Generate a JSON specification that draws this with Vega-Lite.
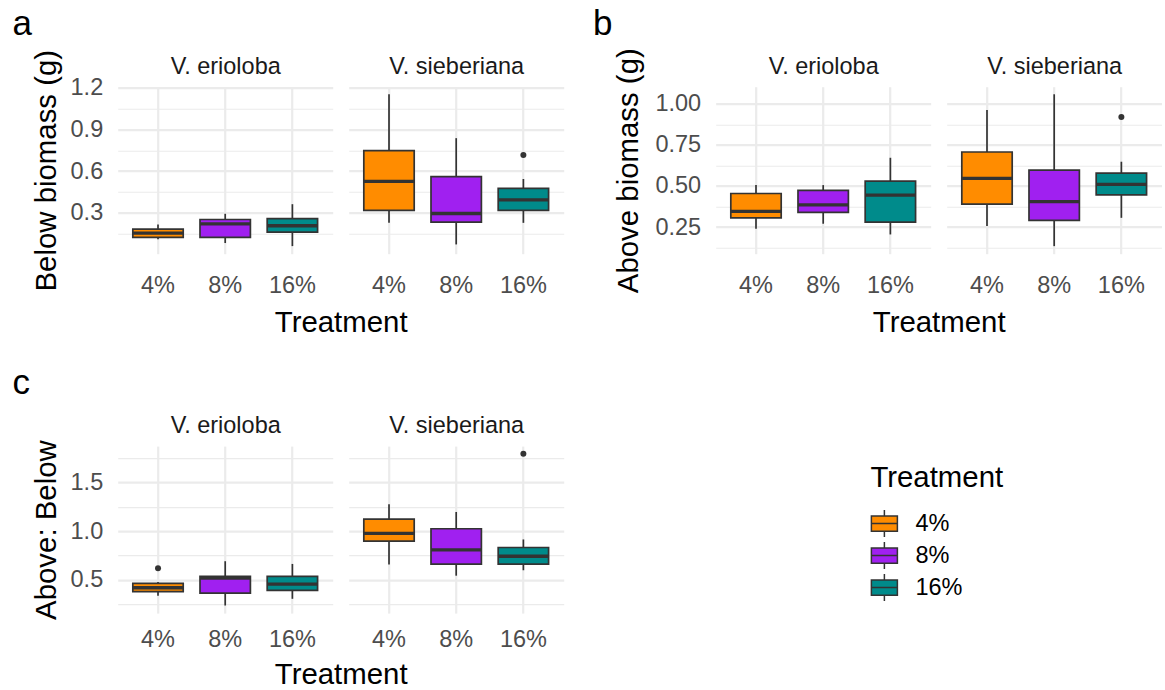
{
"$schema":"https://vega.github.io/schema/vega-lite/v6.json",
"background":"white",
"padding":{"left":11.7,"top":5.7,"right":0,"bottom":0},
"config":{"view":{"stroke":null},"font":"Liberation Sans"},
"datasets":{
"boxes":[
{"panel":"a","species":"V. erioloba","treatment":"4%","lower":0.112,"q1":0.124,"median":0.155,"q3":0.184,"upper":0.217},
{"panel":"a","species":"V. erioloba","treatment":"8%","lower":0.084,"q1":0.124,"median":0.222,"q3":0.253,"upper":0.294},
{"panel":"a","species":"V. erioloba","treatment":"16%","lower":0.062,"q1":0.163,"median":0.208,"q3":0.260,"upper":0.363},
{"panel":"a","species":"V. sieberiana","treatment":"4%","lower":0.229,"q1":0.318,"median":0.527,"q3":0.747,"upper":1.152},
{"panel":"a","species":"V. sieberiana","treatment":"8%","lower":0.074,"q1":0.234,"median":0.296,"q3":0.561,"upper":0.837},
{"panel":"a","species":"V. sieberiana","treatment":"16%","lower":0.229,"q1":0.318,"median":0.394,"q3":0.477,"upper":0.544},
{"panel":"b","species":"V. erioloba","treatment":"4%","lower":0.239,"q1":0.306,"median":0.345,"q3":0.454,"upper":0.505},
{"panel":"b","species":"V. erioloba","treatment":"8%","lower":0.270,"q1":0.339,"median":0.385,"q3":0.473,"upper":0.505},
{"panel":"b","species":"V. erioloba","treatment":"16%","lower":0.205,"q1":0.280,"median":0.444,"q3":0.529,"upper":0.671},
{"panel":"b","species":"V. sieberiana","treatment":"4%","lower":0.256,"q1":0.389,"median":0.546,"q3":0.706,"upper":0.961},
{"panel":"b","species":"V. sieberiana","treatment":"8%","lower":0.134,"q1":0.290,"median":0.404,"q3":0.596,"upper":1.057},
{"panel":"b","species":"V. sieberiana","treatment":"16%","lower":0.306,"q1":0.446,"median":0.509,"q3":0.578,"upper":0.647},
{"panel":"c","species":"V. erioloba","treatment":"4%","lower":0.334,"q1":0.376,"median":0.417,"q3":0.462,"upper":0.476},
{"panel":"c","species":"V. erioloba","treatment":"8%","lower":0.234,"q1":0.362,"median":0.517,"q3":0.534,"upper":0.690},
{"panel":"c","species":"V. erioloba","treatment":"16%","lower":0.303,"q1":0.390,"median":0.455,"q3":0.534,"upper":0.662},
{"panel":"c","species":"V. sieberiana","treatment":"4%","lower":0.655,"q1":0.897,"median":0.976,"q3":1.124,"upper":1.276},
{"panel":"c","species":"V. sieberiana","treatment":"8%","lower":0.541,"q1":0.659,"median":0.807,"q3":1.024,"upper":1.197},
{"panel":"c","species":"V. sieberiana","treatment":"16%","lower":0.597,"q1":0.659,"median":0.741,"q3":0.831,"upper":0.914}
],
"outliers":[
{"panel":"a","species":"V. sieberiana","treatment":"16%","value":0.716},
{"panel":"b","species":"V. sieberiana","treatment":"16%","value":0.919},
{"panel":"c","species":"V. erioloba","treatment":"4%","value":0.617},
{"panel":"c","species":"V. sieberiana","treatment":"16%","value":1.797}
]
},
"columns":5,
"spacing":{"row":192.4,"column":16},
"bounds":"flush",
"concat":[
{
"width":215,"height":167,
"resolve":{"axis":{"y":"independent"}},
"encoding":{"x":{"field":"treatment","type":"nominal","sort":["4%","8%","16%"],"scale":{"type":"band","domain":["4%","8%","16%"],"paddingInner":0.25,"paddingOuter":0.225},"axis":{"title":"Treatment","titleX":223,"titleY":77.6,"titleAlign":"center","titleBaseline":"alphabetic","titleFontSize":29.4,"titleFont":"Liberation Sans","titleFontWeight":"normal","titleColor":"#000000","labelFontSize":23.5,"labelFont":"Liberation Sans","labelColor":"#4D4D4D","labelBaseline":"alphabetic","labelPadding":39,"labelAngle":0,"ticks":false,"domain":false,"grid":true,"gridColor":"#EBEBEB","gridWidth":2.2,"bandPosition":0.5}}},
"layer":[
{"data":{"name":"boxes"},"transform":[{"filter":"datum.panel=='a' && datum.species=='V. erioloba'"}],"mark":{"type":"rule","color":"#333333","strokeWidth":1.7},
"encoding":{"y":{"field":"lower","type":"quantitative","scale":{"domain":[0.0075,1.2065],"nice":false,"zero":false},"axis":{"orient":"left","values":[0.3,0.6,0.9,1.2],"format":".1f","labelOverlap":false,"labelFlush":false,"labelFontSize":23.5,"labelFont":"Liberation Sans","labelColor":"#4D4D4D","labelPadding":15,"ticks":false,"domain":false,"grid":true,"gridColor":"#EBEBEB","gridWidth":2.2,"title":"Below biomass (g)","titleX":-62,"titleY":83.5,"titleAngle":270,"titleAlign":"center","titleBaseline":"alphabetic","titleFontSize":29.4,"titleFont":"Liberation Sans","titleFontWeight":"normal","titleColor":"#000000"}},"y2":{"field":"upper"}}},
{"data":{"name":"boxes"},"transform":[{"filter":"datum.panel=='a' && datum.species=='V. erioloba'"}],"mark":{"type":"bar","stroke":"#333333","strokeWidth":1.7},
"encoding":{"y":{"field":"q1","type":"quantitative","scale":{"domain":[0.0075,1.2065],"nice":false,"zero":false},"axis":{"orient":"left","values":[0.15,0.45,0.75,1.05],"labels":false,"ticks":false,"domain":false,"grid":true,"gridColor":"#EBEBEB","gridWidth":1.1,"title":"V. erioloba","titleX":107.5,"titleY":-13.5,"titleAngle":0,"titleAlign":"center","titleBaseline":"alphabetic","titleFontSize":23.5,"titleFont":"Liberation Sans","titleFontWeight":"normal","titleColor":"#1A1A1A"}},"y2":{"field":"q3"},
"fill":{"field":"treatment","type":"nominal","sort":["4%","8%","16%"],"scale":{"domain":["4%","8%","16%"],"range":["#FF8C00","#A020F0","#008B8B"]},"legend":{"title":"Treatment","orient":"none","legendX":752.7,"legendY":377,"padding":0,"titleFontSize":29.4,"titleFont":"Liberation Sans","titleFontWeight":"normal","titleColor":"#000000","titlePadding":16.5,"labelFontSize":23.5,"labelFont":"Liberation Sans","labelColor":"#000000","labelOffset":17,"symbolType":"M-1,-0.58H1V0.58H-1Z M-1,0H1 M0,-0.58V-1.04 M0,0.58V1.04","symbolSize":676,"symbolStrokeColor":"#333333","symbolStrokeWidth":1.5,"symbolOpacity":1,"rowPadding":-2}}}},
{"data":{"name":"boxes"},"transform":[{"filter":"datum.panel=='a' && datum.species=='V. erioloba'"}],"mark":{"type":"bar","stroke":"#333333","strokeWidth":3.3,"fillOpacity":0},
"encoding":{"y":{"field":"median","type":"quantitative","scale":{"domain":[0.0075,1.2065],"nice":false,"zero":false},"axis":null},"y2":{"field":"median"}}},
{"data":{"name":"outliers"},"transform":[{"filter":"datum.panel=='a' && datum.species=='V. erioloba'"}],"mark":{"type":"circle","size":36,"color":"#333333","opacity":1},
"encoding":{"y":{"field":"value","type":"quantitative","scale":{"domain":[0.0075,1.2065],"nice":false,"zero":false},"axis":null}}}
]
},
{
"width":215,"height":167,
"resolve":{"axis":{"y":"independent"}},
"encoding":{"x":{"field":"treatment","type":"nominal","sort":["4%","8%","16%"],"scale":{"type":"band","domain":["4%","8%","16%"],"paddingInner":0.25,"paddingOuter":0.225},"axis":{"title":null,"labelFontSize":23.5,"labelFont":"Liberation Sans","labelColor":"#4D4D4D","labelBaseline":"alphabetic","labelPadding":39,"labelAngle":0,"ticks":false,"domain":false,"grid":true,"gridColor":"#EBEBEB","gridWidth":2.2,"bandPosition":0.5}}},
"layer":[
{"data":{"name":"boxes"},"transform":[{"filter":"datum.panel=='a' && datum.species=='V. sieberiana'"}],"mark":{"type":"rule","color":"#333333","strokeWidth":1.7},
"encoding":{"y":{"field":"lower","type":"quantitative","scale":{"domain":[0.0075,1.2065],"nice":false,"zero":false},"axis":{"orient":"left","values":[0.3,0.6,0.9,1.2],"labels":false,"ticks":false,"domain":false,"grid":true,"gridColor":"#EBEBEB","gridWidth":2.2,"title":"a","titleX":-336.6,"titleY":-52.4,"titleAngle":0,"titleAlign":"left","titleBaseline":"alphabetic","titleFontSize":35,"titleFont":"Liberation Sans","titleFontWeight":"normal","titleColor":"#000000"}},"y2":{"field":"upper"}}},
{"data":{"name":"boxes"},"transform":[{"filter":"datum.panel=='a' && datum.species=='V. sieberiana'"}],"mark":{"type":"bar","stroke":"#333333","strokeWidth":1.7},
"encoding":{"y":{"field":"q1","type":"quantitative","scale":{"domain":[0.0075,1.2065],"nice":false,"zero":false},"axis":{"orient":"left","values":[0.15,0.45,0.75,1.05],"labels":false,"ticks":false,"domain":false,"grid":true,"gridColor":"#EBEBEB","gridWidth":1.1,"title":"V. sieberiana","titleX":107.5,"titleY":-13.5,"titleAngle":0,"titleAlign":"center","titleBaseline":"alphabetic","titleFontSize":23.5,"titleFont":"Liberation Sans","titleFontWeight":"normal","titleColor":"#1A1A1A"}},"y2":{"field":"q3"},
"fill":{"field":"treatment","type":"nominal","sort":["4%","8%","16%"],"scale":{"domain":["4%","8%","16%"],"range":["#FF8C00","#A020F0","#008B8B"]},"legend":{"title":"Treatment","orient":"none","legendX":752.7,"legendY":377,"padding":0,"titleFontSize":29.4,"titleFont":"Liberation Sans","titleFontWeight":"normal","titleColor":"#000000","titlePadding":16.5,"labelFontSize":23.5,"labelFont":"Liberation Sans","labelColor":"#000000","labelOffset":17,"symbolType":"M-1,-0.58H1V0.58H-1Z M-1,0H1 M0,-0.58V-1.04 M0,0.58V1.04","symbolSize":676,"symbolStrokeColor":"#333333","symbolStrokeWidth":1.5,"symbolOpacity":1,"rowPadding":-2}}}},
{"data":{"name":"boxes"},"transform":[{"filter":"datum.panel=='a' && datum.species=='V. sieberiana'"}],"mark":{"type":"bar","stroke":"#333333","strokeWidth":3.3,"fillOpacity":0},
"encoding":{"y":{"field":"median","type":"quantitative","scale":{"domain":[0.0075,1.2065],"nice":false,"zero":false},"axis":null},"y2":{"field":"median"}}},
{"data":{"name":"outliers"},"transform":[{"filter":"datum.panel=='a' && datum.species=='V. sieberiana'"}],"mark":{"type":"circle","size":36,"color":"#333333","opacity":1},
"encoding":{"y":{"field":"value","type":"quantitative","scale":{"domain":[0.0075,1.2065],"nice":false,"zero":false},"axis":null}}}
]
},
{"width":120,"height":167,"data":{"values":[{}]},"mark":{"type":"point","opacity":0},"encoding":{}},
{
"width":215,"height":167,
"resolve":{"axis":{"y":"independent"}},
"encoding":{"x":{"field":"treatment","type":"nominal","sort":["4%","8%","16%"],"scale":{"type":"band","domain":["4%","8%","16%"],"paddingInner":0.25,"paddingOuter":0.225},"axis":{"title":"Treatment","titleX":223,"titleY":77.6,"titleAlign":"center","titleBaseline":"alphabetic","titleFontSize":29.4,"titleFont":"Liberation Sans","titleFontWeight":"normal","titleColor":"#000000","labelFontSize":23.5,"labelFont":"Liberation Sans","labelColor":"#4D4D4D","labelBaseline":"alphabetic","labelPadding":39,"labelAngle":0,"ticks":false,"domain":false,"grid":true,"gridColor":"#EBEBEB","gridWidth":2.2,"bandPosition":0.5}}},
"layer":[
{"data":{"name":"boxes"},"transform":[{"filter":"datum.panel=='b' && datum.species=='V. erioloba'"}],"mark":{"type":"rule","color":"#333333","strokeWidth":1.7},
"encoding":{"y":{"field":"lower","type":"quantitative","scale":{"domain":[0.088,1.103],"nice":false,"zero":false},"axis":{"orient":"left","values":[0.25,0.5,0.75,1.0],"format":".2f","labelOverlap":false,"labelFlush":false,"labelFontSize":23.5,"labelFont":"Liberation Sans","labelColor":"#4D4D4D","labelPadding":15,"ticks":false,"domain":false,"grid":true,"gridColor":"#EBEBEB","gridWidth":2.2,"title":"Above biomass (g)","titleX":-77.7,"titleY":83.5,"titleAngle":270,"titleAlign":"center","titleBaseline":"alphabetic","titleFontSize":29.4,"titleFont":"Liberation Sans","titleFontWeight":"normal","titleColor":"#000000"}},"y2":{"field":"upper"}}},
{"data":{"name":"boxes"},"transform":[{"filter":"datum.panel=='b' && datum.species=='V. erioloba'"}],"mark":{"type":"bar","stroke":"#333333","strokeWidth":1.7},
"encoding":{"y":{"field":"q1","type":"quantitative","scale":{"domain":[0.088,1.103],"nice":false,"zero":false},"axis":{"orient":"left","values":[0.125,0.375,0.625,0.875],"labels":false,"ticks":false,"domain":false,"grid":true,"gridColor":"#EBEBEB","gridWidth":1.1,"title":"V. erioloba","titleX":107.5,"titleY":-13.5,"titleAngle":0,"titleAlign":"center","titleBaseline":"alphabetic","titleFontSize":23.5,"titleFont":"Liberation Sans","titleFontWeight":"normal","titleColor":"#1A1A1A"}},"y2":{"field":"q3"},
"fill":{"field":"treatment","type":"nominal","sort":["4%","8%","16%"],"scale":{"domain":["4%","8%","16%"],"range":["#FF8C00","#A020F0","#008B8B"]},"legend":{"title":"Treatment","orient":"none","legendX":752.7,"legendY":377,"padding":0,"titleFontSize":29.4,"titleFont":"Liberation Sans","titleFontWeight":"normal","titleColor":"#000000","titlePadding":16.5,"labelFontSize":23.5,"labelFont":"Liberation Sans","labelColor":"#000000","labelOffset":17,"symbolType":"M-1,-0.58H1V0.58H-1Z M-1,0H1 M0,-0.58V-1.04 M0,0.58V1.04","symbolSize":676,"symbolStrokeColor":"#333333","symbolStrokeWidth":1.5,"symbolOpacity":1,"rowPadding":-2}}}},
{"data":{"name":"boxes"},"transform":[{"filter":"datum.panel=='b' && datum.species=='V. erioloba'"}],"mark":{"type":"bar","stroke":"#333333","strokeWidth":3.3,"fillOpacity":0},
"encoding":{"y":{"field":"median","type":"quantitative","scale":{"domain":[0.088,1.103],"nice":false,"zero":false},"axis":null},"y2":{"field":"median"}}},
{"data":{"name":"outliers"},"transform":[{"filter":"datum.panel=='b' && datum.species=='V. erioloba'"}],"mark":{"type":"circle","size":36,"color":"#333333","opacity":1},
"encoding":{"y":{"field":"value","type":"quantitative","scale":{"domain":[0.088,1.103],"nice":false,"zero":false},"axis":null}}}
]
},
{
"width":215,"height":167,
"resolve":{"axis":{"y":"independent"}},
"encoding":{"x":{"field":"treatment","type":"nominal","sort":["4%","8%","16%"],"scale":{"type":"band","domain":["4%","8%","16%"],"paddingInner":0.25,"paddingOuter":0.225},"axis":{"title":null,"labelFontSize":23.5,"labelFont":"Liberation Sans","labelColor":"#4D4D4D","labelBaseline":"alphabetic","labelPadding":39,"labelAngle":0,"ticks":false,"domain":false,"grid":true,"gridColor":"#EBEBEB","gridWidth":2.2,"bandPosition":0.5}}},
"layer":[
{"data":{"name":"boxes"},"transform":[{"filter":"datum.panel=='b' && datum.species=='V. sieberiana'"}],"mark":{"type":"rule","color":"#333333","strokeWidth":1.7},
"encoding":{"y":{"field":"lower","type":"quantitative","scale":{"domain":[0.088,1.103],"nice":false,"zero":false},"axis":{"orient":"left","values":[0.25,0.5,0.75,1.0],"labels":false,"ticks":false,"domain":false,"grid":true,"gridColor":"#EBEBEB","gridWidth":2.2,"title":"b","titleX":-354.1,"titleY":-52.4,"titleAngle":0,"titleAlign":"left","titleBaseline":"alphabetic","titleFontSize":35,"titleFont":"Liberation Sans","titleFontWeight":"normal","titleColor":"#000000"}},"y2":{"field":"upper"}}},
{"data":{"name":"boxes"},"transform":[{"filter":"datum.panel=='b' && datum.species=='V. sieberiana'"}],"mark":{"type":"bar","stroke":"#333333","strokeWidth":1.7},
"encoding":{"y":{"field":"q1","type":"quantitative","scale":{"domain":[0.088,1.103],"nice":false,"zero":false},"axis":{"orient":"left","values":[0.125,0.375,0.625,0.875],"labels":false,"ticks":false,"domain":false,"grid":true,"gridColor":"#EBEBEB","gridWidth":1.1,"title":"V. sieberiana","titleX":107.5,"titleY":-13.5,"titleAngle":0,"titleAlign":"center","titleBaseline":"alphabetic","titleFontSize":23.5,"titleFont":"Liberation Sans","titleFontWeight":"normal","titleColor":"#1A1A1A"}},"y2":{"field":"q3"},
"fill":{"field":"treatment","type":"nominal","sort":["4%","8%","16%"],"scale":{"domain":["4%","8%","16%"],"range":["#FF8C00","#A020F0","#008B8B"]},"legend":{"title":"Treatment","orient":"none","legendX":752.7,"legendY":377,"padding":0,"titleFontSize":29.4,"titleFont":"Liberation Sans","titleFontWeight":"normal","titleColor":"#000000","titlePadding":16.5,"labelFontSize":23.5,"labelFont":"Liberation Sans","labelColor":"#000000","labelOffset":17,"symbolType":"M-1,-0.58H1V0.58H-1Z M-1,0H1 M0,-0.58V-1.04 M0,0.58V1.04","symbolSize":676,"symbolStrokeColor":"#333333","symbolStrokeWidth":1.5,"symbolOpacity":1,"rowPadding":-2}}}},
{"data":{"name":"boxes"},"transform":[{"filter":"datum.panel=='b' && datum.species=='V. sieberiana'"}],"mark":{"type":"bar","stroke":"#333333","strokeWidth":3.3,"fillOpacity":0},
"encoding":{"y":{"field":"median","type":"quantitative","scale":{"domain":[0.088,1.103],"nice":false,"zero":false},"axis":null},"y2":{"field":"median"}}},
{"data":{"name":"outliers"},"transform":[{"filter":"datum.panel=='b' && datum.species=='V. sieberiana'"}],"mark":{"type":"circle","size":36,"color":"#333333","opacity":1},
"encoding":{"y":{"field":"value","type":"quantitative","scale":{"domain":[0.088,1.103],"nice":false,"zero":false},"axis":null}}}
]
},
{
"width":215,"height":167,
"resolve":{"axis":{"y":"independent"}},
"encoding":{"x":{"field":"treatment","type":"nominal","sort":["4%","8%","16%"],"scale":{"type":"band","domain":["4%","8%","16%"],"paddingInner":0.25,"paddingOuter":0.225},"axis":{"title":"Treatment","titleX":223,"titleY":70.4,"titleAlign":"center","titleBaseline":"alphabetic","titleFontSize":29.4,"titleFont":"Liberation Sans","titleFontWeight":"normal","titleColor":"#000000","labelFontSize":23.5,"labelFont":"Liberation Sans","labelColor":"#4D4D4D","labelBaseline":"alphabetic","labelPadding":33.4,"labelAngle":0,"ticks":false,"domain":false,"grid":true,"gridColor":"#EBEBEB","gridWidth":2.2,"bandPosition":0.5}}},
"layer":[
{"data":{"name":"boxes"},"transform":[{"filter":"datum.panel=='c' && datum.species=='V. erioloba'"}],"mark":{"type":"rule","color":"#333333","strokeWidth":1.7},
"encoding":{"y":{"field":"lower","type":"quantitative","scale":{"domain":[0.156,1.875],"nice":false,"zero":false},"axis":{"orient":"left","values":[0.5,1.0,1.5],"format":".1f","labelOverlap":false,"labelFlush":false,"labelFontSize":23.5,"labelFont":"Liberation Sans","labelColor":"#4D4D4D","labelPadding":15,"ticks":false,"domain":false,"grid":true,"gridColor":"#EBEBEB","gridWidth":2.2,"title":"Above: Below","titleX":-62,"titleY":83.5,"titleAngle":270,"titleAlign":"center","titleBaseline":"alphabetic","titleFontSize":29.4,"titleFont":"Liberation Sans","titleFontWeight":"normal","titleColor":"#000000"}},"y2":{"field":"upper"}}},
{"data":{"name":"boxes"},"transform":[{"filter":"datum.panel=='c' && datum.species=='V. erioloba'"}],"mark":{"type":"bar","stroke":"#333333","strokeWidth":1.7},
"encoding":{"y":{"field":"q1","type":"quantitative","scale":{"domain":[0.156,1.875],"nice":false,"zero":false},"axis":{"orient":"left","values":[0.25,0.75,1.25,1.75],"labels":false,"ticks":false,"domain":false,"grid":true,"gridColor":"#EBEBEB","gridWidth":1.1,"title":"V. erioloba","titleX":107.5,"titleY":-13.5,"titleAngle":0,"titleAlign":"center","titleBaseline":"alphabetic","titleFontSize":23.5,"titleFont":"Liberation Sans","titleFontWeight":"normal","titleColor":"#1A1A1A"}},"y2":{"field":"q3"},
"fill":{"field":"treatment","type":"nominal","sort":["4%","8%","16%"],"scale":{"domain":["4%","8%","16%"],"range":["#FF8C00","#A020F0","#008B8B"]},"legend":{"title":"Treatment","orient":"none","legendX":752.7,"legendY":377,"padding":0,"titleFontSize":29.4,"titleFont":"Liberation Sans","titleFontWeight":"normal","titleColor":"#000000","titlePadding":16.5,"labelFontSize":23.5,"labelFont":"Liberation Sans","labelColor":"#000000","labelOffset":17,"symbolType":"M-1,-0.58H1V0.58H-1Z M-1,0H1 M0,-0.58V-1.04 M0,0.58V1.04","symbolSize":676,"symbolStrokeColor":"#333333","symbolStrokeWidth":1.5,"symbolOpacity":1,"rowPadding":-2}}}},
{"data":{"name":"boxes"},"transform":[{"filter":"datum.panel=='c' && datum.species=='V. erioloba'"}],"mark":{"type":"bar","stroke":"#333333","strokeWidth":3.3,"fillOpacity":0},
"encoding":{"y":{"field":"median","type":"quantitative","scale":{"domain":[0.156,1.875],"nice":false,"zero":false},"axis":null},"y2":{"field":"median"}}},
{"data":{"name":"outliers"},"transform":[{"filter":"datum.panel=='c' && datum.species=='V. erioloba'"}],"mark":{"type":"circle","size":36,"color":"#333333","opacity":1},
"encoding":{"y":{"field":"value","type":"quantitative","scale":{"domain":[0.156,1.875],"nice":false,"zero":false},"axis":null}}}
]
},
{
"width":215,"height":167,
"resolve":{"axis":{"y":"independent"}},
"encoding":{"x":{"field":"treatment","type":"nominal","sort":["4%","8%","16%"],"scale":{"type":"band","domain":["4%","8%","16%"],"paddingInner":0.25,"paddingOuter":0.225},"axis":{"title":null,"labelFontSize":23.5,"labelFont":"Liberation Sans","labelColor":"#4D4D4D","labelBaseline":"alphabetic","labelPadding":33.4,"labelAngle":0,"ticks":false,"domain":false,"grid":true,"gridColor":"#EBEBEB","gridWidth":2.2,"bandPosition":0.5}}},
"layer":[
{"data":{"name":"boxes"},"transform":[{"filter":"datum.panel=='c' && datum.species=='V. sieberiana'"}],"mark":{"type":"rule","color":"#333333","strokeWidth":1.7},
"encoding":{"y":{"field":"lower","type":"quantitative","scale":{"domain":[0.156,1.875],"nice":false,"zero":false},"axis":{"orient":"left","values":[0.5,1.0,1.5],"labels":false,"ticks":false,"domain":false,"grid":true,"gridColor":"#EBEBEB","gridWidth":2.2,"title":"c","titleX":-336.6,"titleY":-52.4,"titleAngle":0,"titleAlign":"left","titleBaseline":"alphabetic","titleFontSize":35,"titleFont":"Liberation Sans","titleFontWeight":"normal","titleColor":"#000000"}},"y2":{"field":"upper"}}},
{"data":{"name":"boxes"},"transform":[{"filter":"datum.panel=='c' && datum.species=='V. sieberiana'"}],"mark":{"type":"bar","stroke":"#333333","strokeWidth":1.7},
"encoding":{"y":{"field":"q1","type":"quantitative","scale":{"domain":[0.156,1.875],"nice":false,"zero":false},"axis":{"orient":"left","values":[0.25,0.75,1.25,1.75],"labels":false,"ticks":false,"domain":false,"grid":true,"gridColor":"#EBEBEB","gridWidth":1.1,"title":"V. sieberiana","titleX":107.5,"titleY":-13.5,"titleAngle":0,"titleAlign":"center","titleBaseline":"alphabetic","titleFontSize":23.5,"titleFont":"Liberation Sans","titleFontWeight":"normal","titleColor":"#1A1A1A"}},"y2":{"field":"q3"},
"fill":{"field":"treatment","type":"nominal","sort":["4%","8%","16%"],"scale":{"domain":["4%","8%","16%"],"range":["#FF8C00","#A020F0","#008B8B"]},"legend":{"title":"Treatment","orient":"none","legendX":752.7,"legendY":377,"padding":0,"titleFontSize":29.4,"titleFont":"Liberation Sans","titleFontWeight":"normal","titleColor":"#000000","titlePadding":16.5,"labelFontSize":23.5,"labelFont":"Liberation Sans","labelColor":"#000000","labelOffset":17,"symbolType":"M-1,-0.58H1V0.58H-1Z M-1,0H1 M0,-0.58V-1.04 M0,0.58V1.04","symbolSize":676,"symbolStrokeColor":"#333333","symbolStrokeWidth":1.5,"symbolOpacity":1,"rowPadding":-2}}}},
{"data":{"name":"boxes"},"transform":[{"filter":"datum.panel=='c' && datum.species=='V. sieberiana'"}],"mark":{"type":"bar","stroke":"#333333","strokeWidth":3.3,"fillOpacity":0},
"encoding":{"y":{"field":"median","type":"quantitative","scale":{"domain":[0.156,1.875],"nice":false,"zero":false},"axis":null},"y2":{"field":"median"}}},
{"data":{"name":"outliers"},"transform":[{"filter":"datum.panel=='c' && datum.species=='V. sieberiana'"}],"mark":{"type":"circle","size":36,"color":"#333333","opacity":1},
"encoding":{"y":{"field":"value","type":"quantitative","scale":{"domain":[0.156,1.875],"nice":false,"zero":false},"axis":null}}}
]
}
]
}
